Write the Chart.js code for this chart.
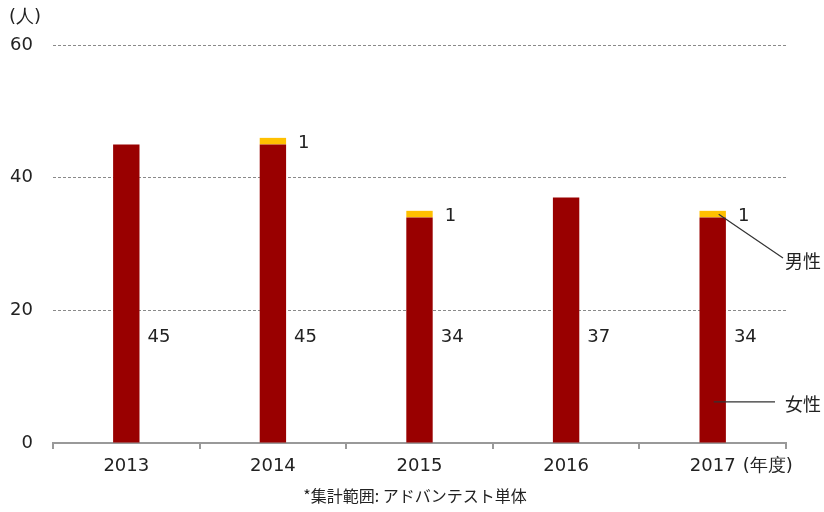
<!DOCTYPE html>
<html>
<head>
<meta charset="utf-8">
<script src="https://cdn.jsdelivr.net/npm/chart.js@4"></script>
<style>
  body { margin: 0; background: #fff; }
  #wrap { width: 824px; height: 512px; }
</style>
</head>
<body>
<div id="wrap"><canvas id="grafico"></canvas></div>
<script>
const anos = ['2013', '2014', '2015', '2016', '2017'];
const mulheres = [45, 45, 34, 37, 34];
const homens = [0, 1, 1, 0, 1];
const ticksY = [0, 20, 40, 60];

const fonte = '"DejaVu Sans", Verdana, sans-serif';
const fonteJp = '"Noto Sans CJK JP", "DejaVu Sans", sans-serif';
const corTexto = '#222';

// rótulos de valor, anotações e textos soltos
const extras = {
  id: 'extras',
  afterDatasetsDraw(chart) {
    const ctx = chart.ctx;
    const y = chart.scales.y;
    const metaF = chart.getDatasetMeta(0);
    const metaM = chart.getDatasetMeta(1);
    ctx.save();
    ctx.fillStyle = corTexto;
    ctx.textBaseline = 'middle';
    ctx.textAlign = 'left';
    ctx.font = '18px ' + fonte;

    metaF.data.forEach((bar, i) => {
      ctx.fillText(String(mulheres[i]), bar.x + bar.width / 2 + 8, y.getPixelForValue(16));
    });
    metaM.data.forEach((bar, i) => {
      if (!homens[i]) return;
      ctx.fillText(String(homens[i]), bar.x + bar.width / 2 + 12, bar.y + 5);
    });

    // linhas de legenda na última barra
    const ultimaF = metaF.data[4];
    const ultimaM = metaM.data[4];
    ctx.strokeStyle = '#333';
    ctx.lineWidth = 1.2;
    ctx.beginPath();
    ctx.moveTo(ultimaM.x + 6, (ultimaM.y + ultimaM.base) / 2);
    ctx.lineTo(783, 258);
    ctx.moveTo(ultimaF.x + 1, y.getPixelForValue(6.2));
    ctx.lineTo(775, y.getPixelForValue(6.2));
    ctx.stroke();

    ctx.font = '18px ' + fonteJp;
    ctx.fillText('男性', 785, 261);
    ctx.fillText('女性', 785, y.getPixelForValue(6.2) + 2);

    // unidade e rodapé
    ctx.font = '18px ' + fonte;
    ctx.fillText('(人)', 9, 17);
    const x = chart.scales.x;
    ctx.fillText('(年度)', x.getPixelForValue(4) + 30, 466);
    ctx.textAlign = 'center';
    ctx.font = '16px ' + fonteJp;
    ctx.fillText('*集計範囲: アドバンテスト単体', 415, 496);
    ctx.restore();
  }
};

const ctx = document.getElementById('grafico').getContext('2d');
new Chart(ctx, {
  type: 'bar',
  data: {
    labels: anos,
    datasets: [
      {
        label: '女性',
        data: mulheres,
        backgroundColor: '#990000',
        barPercentage: 0.18,
        categoryPercentage: 1
      },
      {
        label: '男性',
        data: homens,
        backgroundColor: '#FFC000',
        barPercentage: 0.18,
        categoryPercentage: 1
      }
    ]
  },
  options: {
    responsive: true,
    maintainAspectRatio: false,
    animation: false,
    layout: { padding: { top: 45, right: 38, left: 0, bottom: 0 } },
    scales: {
      x: {
        stacked: true,
        afterFit: s => { s.height = 69; },
        grid: {
          drawOnChartArea: false,
          drawTicks: true,
          tickLength: 6,
          color: '#999',
          lineWidth: 2
        },
        border: { display: true, color: '#999', width: 2 },
        ticks: {
          color: corTexto,
          font: { family: fonte, size: 18 },
          padding: 7
        }
      },
      y: {
        stacked: true,
        min: 0,
        max: 60,
        afterFit: s => { s.width = 53; },
        afterBuildTicks: s => { s.ticks = ticksY.map(v => ({ value: v })); },
        grid: {
          drawTicks: false,
          color: c => (c.tick.value === 0 ? 'rgba(0,0,0,0)' : '#8a8a8a'),
          lineWidth: 1
        },
        border: { display: false, dash: [3, 2] },
        ticks: {
          color: corTexto,
          font: { family: fonte, size: 18 },
          padding: 20
        }
      }
    },
    plugins: {
      legend: { display: false },
      tooltip: { enabled: false }
    }
  },
  plugins: [extras]
});
</script>
</body>
</html>
